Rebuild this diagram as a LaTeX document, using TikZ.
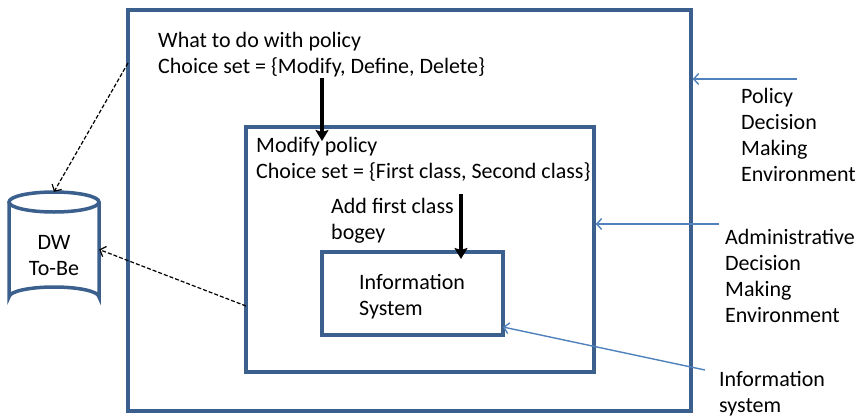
\documentclass[tikz,border=0pt]{standalone}
\usepackage{fontspec}
\setmainfont{Carlito}
\usetikzlibrary{arrows.meta}
\definecolor{frame}{RGB}{60,96,142}
\definecolor{pointer}{RGB}{79,129,189}
\begin{document}
\begin{tikzpicture}[x=1pt,y=-1pt,
  box/.style={draw=frame,line width=3.5pt,minimum width=#1,inner sep=0pt},
  label/.style={font=\fontsize{22}{26}\selectfont,align=left,anchor=base west,inner sep=0pt},
  flow/.style={line width=3.8pt,-{Stealth[length=11pt,width=13pt,inset=2pt]}},
  link/.style={dash pattern=on 4pt off 2pt,line width=1.2pt,-{Straight Barb[length=5pt,width=11pt]}},
  callout/.style={draw=pointer,line width=1.4pt,-{Straight Barb[length=5pt,width=11pt]}}]
\useasboundingbox (0,0) rectangle (863,418);

% nested environments
\node[box=563pt,minimum height=401pt] (outer) at (409.5,210.5) {};
\node[box=348pt,minimum height=245pt] (admin) at (420,249.5) {};
\node[box=181pt,minimum height=83pt] (info) at (412.5,293.5) {};

% data warehouse cylinder
\node[minimum width=90pt,minimum height=115pt,inner sep=0pt] (dw) at (54,249.5) {};
\draw[frame,line width=3.5pt] (54,202) ellipse (45pt and 10pt);
\draw[frame,line width=3.5pt] (9,202) -- (9,297) arc[start angle=180,end angle=360,x radius=45pt,y radius=-10pt] -- (99,202);
\node[label,anchor=base,align=center] (dwtext) at (54,275) {DW\\To-Be};

% texts inside the environments (anchored at the last line's baseline)
\node[label] (policytext) at (158,73) {What to do with policy\\Choice set = \{Modify, Define, Delete\}};
\node[label] (admintext) at (256,178) {Modify policy\\Choice set = \{First class, Second class\}};
\node[label] (action) at (331,239) {Add first class\\bogey};
\node[label] (infotext) at (359,315) {Information\\System};

% side labels
\node[label] (l1) at (741,181) {Policy\\Decision\\Making\\Environment};
\node[label] (l2) at (725,322) {Administrative\\Decision\\Making\\Environment};
\node[label] (l3) at (719,412) {Information\\system};

% decision flow
\coordinate (f1s) at (322,78);
\coordinate (f1e) at (322,141);
\draw[flow] (f1s) -- (f1e);
\coordinate (f2s) at (461,194);
\coordinate (f2e) at (461,259);
\draw[flow] (f2s) -- (f2e);

% links to the warehouse
\coordinate (d1) at (128,63);
\coordinate (d2) at (246,306);
\draw[link] (d1) -- (dw.north);
\draw[link] (d2) -- (dw.east);

% callouts
\coordinate (c1) at (797,79);
\coordinate (c1e) at (outer.east |- c1);
\draw[callout] (c1) -- (c1e);
\coordinate (c2) at (719,224);
\coordinate (c2e) at (admin.east |- c2);
\draw[callout] (c2) -- (c2e);
\coordinate (c3) at (705,370);
\coordinate (c3e) at (503,327);
\draw[callout] (c3) -- (c3e);
\end{tikzpicture}
\end{document}
